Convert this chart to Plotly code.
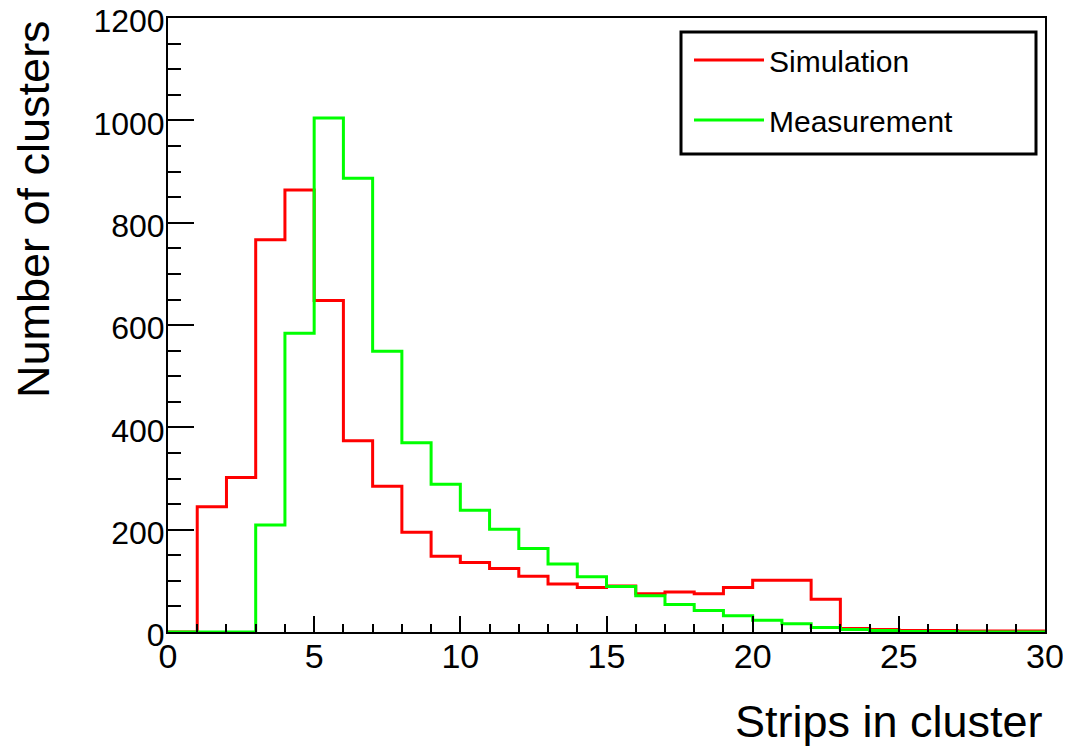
import plotly.graph_objects as go

# ---- data ----
bin_edges = list(range(0, 31))
simulation = [0, 245, 302, 767, 864, 648, 374, 285, 195, 148,
              136, 124, 109, 94, 87, 90, 75, 78, 75, 87,
              101, 101, 64, 7, 5, 3, 3, 2, 2, 2]
measurement = [0, 0, 0, 209, 584, 1005, 887, 549, 370, 289,
               238, 201, 163, 133, 108, 89, 71, 54, 42, 32,
               23, 16, 9, 5, 3, 1, 1, 0, 0, 0]
series_names = ["Simulation", "Measurement"]
series_colors = ["#ff0000", "#00ff00"]

FONT = "Liberation Sans, Arial, Helvetica, sans-serif"

fig = go.Figure()
for name, vals, col in zip(series_names, [simulation, measurement], series_colors):
    fig.add_trace(go.Scatter(
        x=bin_edges, y=vals + [vals[-1]],
        mode="lines", line=dict(color=col, width=3, shape="hv"),
        name=name, legendgroup=name,
    ))

# page body has an 8px default margin; compensate so the plot area lands at
# screen x 168..1045, y 18..632
OFF = 8
W, H = 1071, 749
pw, ph = 877, 614
L, T = 168 - OFF, 18 - OFF
R, B = W - L - pw, H - T - ph
Y0 = T + ph  # layout y of the x axis


def px(xs):
    return (xs - OFF - L) / pw


def py(ys):
    return (Y0 - (ys - OFF)) / ph


fig.update_layout(
    width=W, height=H,
    margin=dict(l=L, r=R, t=T, b=B, autoexpand=False),
    paper_bgcolor="white", plot_bgcolor="white",
    font=dict(family=FONT, color="black", size=32),
    showlegend=True,
    legend=dict(
        x=px(689), y=py(34), xanchor="left", yanchor="top",
        bgcolor="rgba(0,0,0,0)", borderwidth=0,
        font=dict(size=30, family=FONT), tracegroupgap=18,
        itemwidth=70,
    ),
)

fig.update_xaxes(
    range=[0, 30], showgrid=False, zeroline=False, automargin=False,
    showline=True, linecolor="black", linewidth=2, mirror=True,
    ticks="inside", ticklen=16, tickwidth=2, tickcolor="black",
    tick0=0, dtick=5, tickfont=dict(size=34), ticklabelstandoff=-7,
    minor=dict(dtick=1, ticks="inside", ticklen=8, tickwidth=2, tickcolor="black"),
)
fig.update_yaxes(
    range=[0, 1200.3], showgrid=False, zeroline=False, automargin=False,
    showline=True, linecolor="black", linewidth=2, mirror=True,
    ticks="inside", ticklen=26, tickwidth=2, tickcolor="black",
    tick0=0, dtick=200, tickfont=dict(size=32), ticklabelstandoff=-5,
    ticklabeloverflow="allow", ticklabelshift=3,
    minor=dict(dtick=50, ticks="inside", ticklen=13, tickwidth=2, tickcolor="black"),
)

# legend frame
fig.add_shape(type="rect", xref="paper", yref="paper",
              x0=px(681), x1=px(1036), y0=py(154), y1=py(32),
              line=dict(color="black", width=3), fillcolor="white", layer="below")

# axis titles
fig.add_annotation(text="Strips in cluster", xref="paper", yref="paper",
                   x=1, y=py(749), xanchor="right", yanchor="bottom",
                   showarrow=False, font=dict(size=45, family=FONT), yshift=0)
fig.add_annotation(text="Number of clusters", xref="paper", yref="paper",
                   x=px(33), y=1, xanchor="center", yanchor="top",
                   textangle=-90, showarrow=False, font=dict(size=45, family=FONT))

fig.write_html("out.html")
